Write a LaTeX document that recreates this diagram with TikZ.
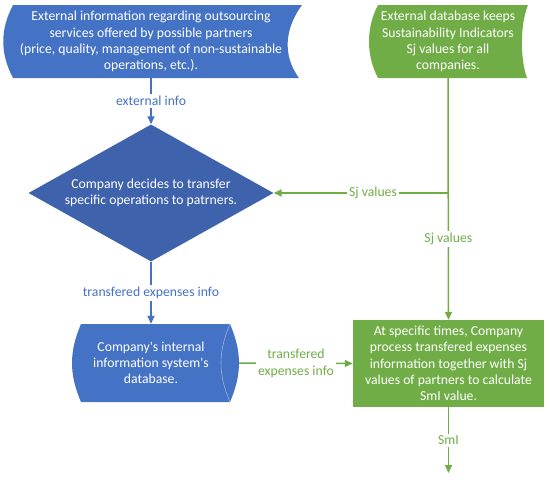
\documentclass[tikz,border=0pt]{standalone}
\usepackage{fontspec}
\setmainfont{Carlito}
\usetikzlibrary{arrows.meta,shapes.geometric}
\definecolor{offblue}{RGB}{68,114,196}
\definecolor{deepblue}{RGB}{62,98,172}
\definecolor{offgreen}{RGB}{112,173,71}
\tikzset{
 txt/.style={font=\fontsize{13.7}{16.2}\selectfont, align=center, inner sep=0},
 intxt/.style={txt, text=white},
 bflow/.style={draw=offblue, line width=1.5pt, -{Triangle[length=8pt,width=7pt]}},
 gflow/.style={draw=offgreen, line width=1.5pt, -{Triangle[length=8pt,width=7pt]}},
 blbl/.style={txt, text=offblue, fill=white, inner sep=2pt},
 glbl/.style={txt, text=offgreen, fill=white, inner sep=2pt},
}
\begin{document}
\begin{tikzpicture}[x=1pt,y=-1pt]
 \useasboundingbox (0,0) rectangle (550,480);
 % stored data shapes and the database
 \fill[offblue] (13,5) -- (302,5) .. controls (285,28) and (282,55) .. (299,78)
  -- (13,78) .. controls (0,53) and (0,30) .. (13,5);
 \fill[offgreen] (378,5) -- (528,5) .. controls (520,25) and (520,58) .. (527,78)
  -- (378,78) .. controls (366,55) and (366,28) .. (378,5);
 \fill[offblue] (81,324) -- (230,324) .. controls (242,352) and (242,374) .. (230,402)
  -- (81,402) .. controls (69,374) and (69,352) .. (81,324);
 \draw[white!45!offblue, line width=.6pt] (230,324) .. controls (218,352) and (218,374) .. (230,402);
 \node[intxt, minimum height=73] (extinfo) at (151,41.5)
  {External information regarding outsourcing\\services offered by possible partners\\(price, quality, management of non-sustainable\\operations, etc.).};
 \node[intxt, minimum height=73] (extdb) at (448,41.5)
  {External database keeps\\Sustainability Indicators\\Sj values for all\\companies.};
 \node[diamond, fill=deepblue, minimum width=245, minimum height=137, inner sep=0] (decide) at (151,193) {};
 \node[intxt] (decidetxt) at (decide.center)
  {Company decides to transfer\\specific operations to patrners.};
 \node[intxt, minimum width=176, minimum height=78] (dbase) at (151,363)
  {Company\textquotesingle s internal\\information system\textquotesingle s\\database.};
 \node[intxt, fill=offgreen, minimum width=191, minimum height=87] (calc) at (448.5,363.5)
  {At specific times, Company\\process transfered expenses\\information together with Sj\\values of partners to calculate\\SmI value.};
 \coordinate (split) at (extdb.south |- decide.east);
 \coordinate (out) at (448.5,473);
 % connectors
 \draw[bflow] (extinfo.south) -- node[blbl]{external info} (decide.north);
 \draw[bflow] (decide.south) -- node[blbl]{transfered expenses info} (dbase.north);
 \draw[gflow] (extdb.south) -- node[glbl, pos=.665]{Sj values} (calc.north);
 \draw[gflow] (split) -- node[glbl, pos=.43]{Sj values} (decide.east);
 \draw[gflow] (dbase.east) -- node[glbl]{transfered\\expenses info} (calc.west);
 \draw[gflow] (calc.south) -- node[glbl]{SmI} (out);
\end{tikzpicture}
\end{document}
